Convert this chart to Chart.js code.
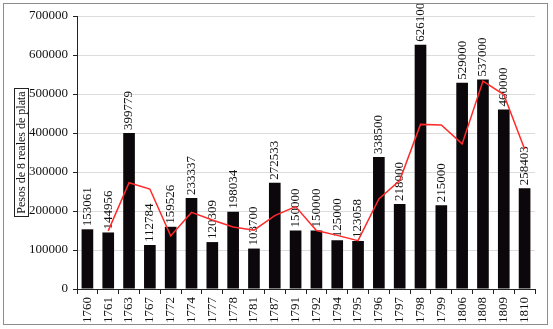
<!DOCTYPE html>
<html>
<head>
<meta charset="utf-8">
<script src="https://cdn.jsdelivr.net/npm/chart.js@4"></script>
<style>
  body { margin: 0; background: #fff; }
  #wrap { position: relative; width: 553px; height: 329px; }
  #frame { position: absolute; left: 3px; top: 3px; width: 543px; height: 320px; border: 1px solid #8c8c8c; pointer-events: none; }
</style>
</head>
<body>
<div id="wrap">
  <canvas id="chart" width="553" height="329"></canvas>
  <div id="frame"></div>
</div>
<script>
const years = ["1760", "1761", "1763", "1767", "1772", "1774", "1777", "1778", "1781", "1787", "1791",
    "1792", "1794", "1795", "1796", "1797", "1798", "1799", "1806", "1808", "1809", "1810"];
const pesos = [153061, 144956, 399779, 112784, 159526, 233337, 120309, 198034, 103700, 272533, 150000,
    150000, 125000, 123058, 338500, 218000, 626100, 215000, 529000, 537000, 460000, 258403];
// red trend line
const trend = [null, 149000, 272400, 256300, 136200, 196400, 176800, 159200, 150900, 188100, 211300,
    150000, 137500, 124000, 230800, 278300, 422100, 420600, 372000, 533000, 498500, 359200];
const yTitle = "Pesos de 8 reales de plata";

const serif = "Liberation Serif";

// value labels above the bars, drawn before the red line
const barLabels = {
    id: "barLabels",
    afterDatasetDraw(chart, args) {
        if (args.index !== 0) return;
        const ctx = chart.ctx;
        ctx.save();
        ctx.font = "13px \"Liberation Serif\"";
        ctx.fillStyle = "#111";
        ctx.textAlign = "left";
        ctx.textBaseline = "middle";
        args.meta.data.forEach((bar, i) => {
            ctx.save();
            ctx.translate(bar.x, bar.y - 3);
            ctx.rotate(-Math.PI / 2);
            ctx.fillText(String(pesos[i]), 0, 0);
            ctx.restore();
        });
        ctx.restore();
    }
};

// boxed y axis title
const boxedTitle = {
    id: "boxedTitle",
    afterDraw(chart) {
        const ctx = chart.ctx;
        const area = chart.chartArea;
        const cy = (area.top + area.bottom) / 2;
        ctx.save();
        ctx.font = "12px \"Liberation Serif\"";
        const w = ctx.measureText(yTitle).width;
        ctx.strokeStyle = "#222";
        ctx.lineWidth = 1;
        ctx.strokeRect(14.5, Math.round(cy - w / 2 - 3) + 0.5, 14, Math.round(w + 6));
        ctx.translate(22, cy);
        ctx.rotate(-Math.PI / 2);
        ctx.fillStyle = "#111";
        ctx.textAlign = "center";
        ctx.textBaseline = "middle";
        ctx.fillText(yTitle, 0, 0);
        ctx.restore();
    }
};

new Chart(document.getElementById("chart"), {
    type: "bar",
    data: {
        labels: years,
        datasets: [
            {
                data: pesos,
                backgroundColor: "#0b070b",
                borderWidth: 0,
                barPercentage: 0.56,
                categoryPercentage: 1,
                order: 2
            },
            {
                type: "line",
                data: trend,
                borderColor: "#ff2a2a",
                borderWidth: 1.5,
                pointRadius: 0,
                tension: 0,
                fill: false,
                order: 1
            }
        ]
    },
    options: {
        responsive: false,
        animation: false,
        layout: { padding: { left: 0, top: 16, right: 18, bottom: 0 } },
        plugins: { legend: { display: false }, tooltip: { enabled: false } },
        scales: {
            x: {
                offset: true,
                afterFit(s) { s.height = 40; },
                grid: { offset: true, drawOnChartArea: false, tickLength: 5, tickColor: "#222" },
                border: { color: "#222" },
                ticks: {
                    minRotation: 90, maxRotation: 90, padding: 3,
                    color: "#111", font: { family: serif, size: 13 }
                }
            },
            y: {
                min: 0, max: 700000,
                afterFit(s) { s.width = 77; },
                grid: { color: "#dcdcdc", tickLength: 4, tickColor: "#222" },
                border: { color: "#222" },
                ticks: {
                    stepSize: 100000, padding: 5,
                    callback: (v) => String(v),
                    color: "#111", font: { family: serif, size: 13 }
                }
            }
        }
    },
    plugins: [barLabels, boxedTitle]
});
</script>
</body>
</html>
